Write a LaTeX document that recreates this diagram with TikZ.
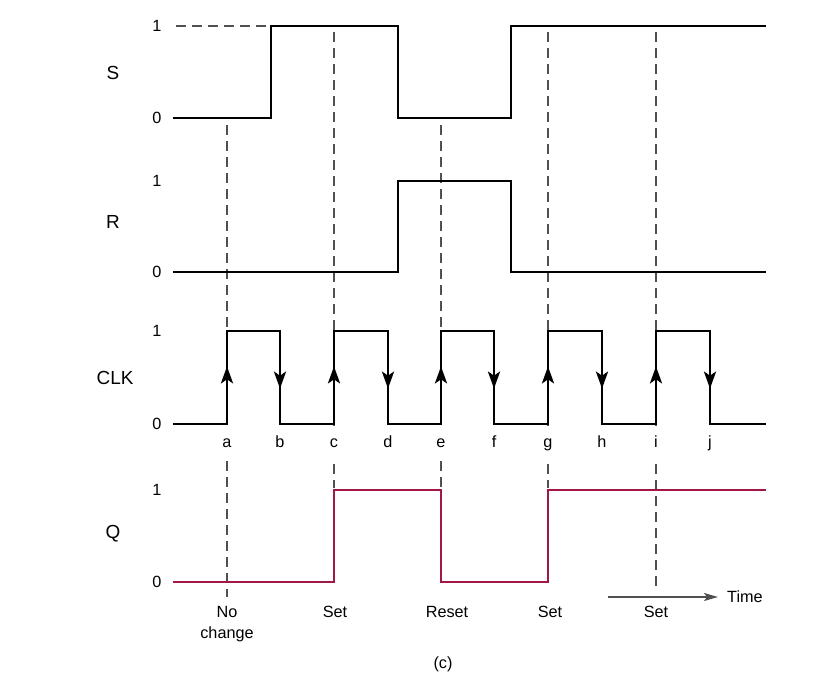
\documentclass[tikz,border=0pt]{standalone}
\usepackage{fontspec}
\setmainfont{Liberation Sans}
\usetikzlibrary{arrows.meta,decorations.markings}
\definecolor{qred}{RGB}{163,22,72}
\definecolor{dashgray}{RGB}{80,80,80}
\begin{document}
\begin{tikzpicture}[x=1bp,y=-1bp,
  wave/.style={line width=2.8bp,black,line join=miter,line cap=butt},
  qwave/.style={line width=2.8bp,qred,line join=miter},
  guide/.style={line width=1.2bp,dashgray,dash pattern=on 10bp off 6bp},
  lbl/.style={font=\fontsize{16.3}{19}\selectfont,inner sep=0pt},
  big/.style={font=\fontsize{19}{22}\selectfont,inner sep=0pt},
  letter/.style={lbl,fill=white,inner xsep=2bp,inner ysep=7.5bp,text height=12bp,text depth=4bp,anchor=base},
  edgearr/.style={postaction={decorate},decoration={markings,mark=at position 0.62 with {\arrow{Stealth[length=17bp,width=12bp,inset=4bp]}}}}
]
\useasboundingbox (0,0) rectangle (832,685);

% guide lines
\draw[guide] (227,125) -- (227,597);
\draw[guide] (334,32) -- (334,488);
\draw[guide] (441,125) -- (441,488);
\draw[guide] (548,32) -- (548,488);
\draw[guide] (656,32) -- (656,591);
\draw[guide] (176,26) -- (268,26);

% edge letters (white backing breaks the guide lines)
\foreach \xx/\tt in {227/a,280/b,334/c,388/d,441/e,494/f,548/g,602/h,656/i,710/j}{
  \node[letter] (e\tt) at (\xx,447) {\tt};
}

% S
\draw[wave] (173,118) -- (271,118) -- (271,26) -- (398,26) -- (398,118) -- (511,118) -- (511,26) -- (766,26);
% R
\draw[wave] (173,272) -- (398,272) -- (398,181) -- (511,181) -- (511,272) -- (766,272);
% CLK
\draw[wave] (173,424) -- (227,424) -- (227,331) -- (280,331) -- (280,424) -- (334,424) -- (334,331) -- (388,331) -- (388,424) -- (441,424) -- (441,331) -- (494,331) -- (494,424) -- (548,424) -- (548,331) -- (602,331) -- (602,424) -- (656,424) -- (656,331) -- (710,331) -- (710,424) -- (766,424);
% CLK edge arrows
\foreach \xx in {227,334,441,548,656}{
  \draw[line width=2.8bp,edgearr] (\xx,424) -- (\xx,331);
}
\foreach \xx in {280,388,494,602,710}{
  \draw[line width=2.8bp,edgearr] (\xx,331) -- (\xx,424);
}
% Q
\draw[qwave] (173,582) -- (334,582) -- (334,490) -- (441,490) -- (441,582) -- (548,582) -- (548,490) -- (766,490);

% level labels
\node[lbl] (s1) at (157,26) {1};
\node[lbl] (s0) at (157,118) {0};
\node[lbl] (r1) at (157,181) {1};
\node[lbl] (r0) at (157,272) {0};
\node[lbl] (c1) at (157,331) {1};
\node[lbl] (c0) at (157,424) {0};
\node[lbl] (q1) at (157,490) {1};
\node[lbl] (q0) at (157,582) {0};
% signal names
\node[big] (sS) at (113,73) {S};
\node[big] (sR) at (113,222) {R};
\node[big] (sC) at (115,378) {CLK};
\node[big] (sQ) at (113,534) {Q};
% bottom labels
\node[lbl,anchor=base] (nc1) at (227,617) {No};
\node[lbl,anchor=base] (nc2) at (227,638) {change};
\node[lbl,anchor=base] (st1) at (335,617) {Set};
\node[lbl,anchor=base] (rst) at (447,617) {Reset};
\node[lbl,anchor=base] (st2) at (550,617) {Set};
\node[lbl,anchor=base] (st3) at (656,617) {Set};
\node[lbl] (cap) at (443,664) {(c)};
% time arrow
\coordinate (tstart) at (608,597);
\node[lbl,anchor=west,inner xsep=9bp] (time) at (718,597) {Time};
\draw[line width=1.6bp,dashgray,-{Stealth[length=14bp,width=8bp,inset=3bp]}] (tstart) -- (time.west);
\end{tikzpicture}
\end{document}
